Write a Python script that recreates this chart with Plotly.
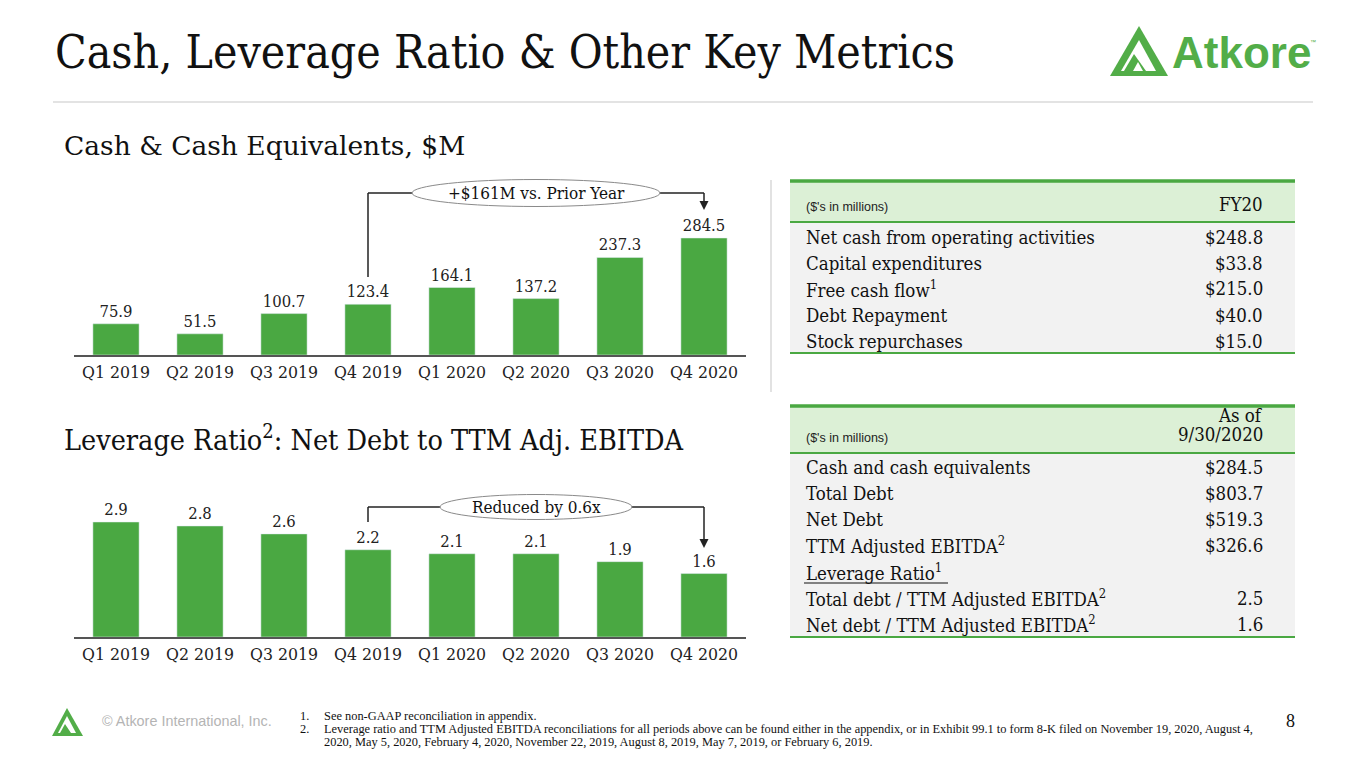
import plotly.graph_objects as go

W, H = 1365, 768

quarters = ["Q1 2019", "Q2 2019", "Q3 2019", "Q4 2019", "Q1 2020", "Q2 2020", "Q3 2020", "Q4 2020"]
cash_values = [75.9, 51.5, 100.7, 123.4, 164.1, 137.2, 237.3, 284.5]
leverage_values = [2.9, 2.8, 2.6, 2.2, 2.1, 2.1, 1.9, 1.6]

table1_header = ["($'s in millions)", "FY20"]
table1_labels = ["Net cash from operating activities", "Capital expenditures", "Free cash flow<sup>1</sup>",
                 "Debt Repayment", "Stock repurchases"]
table1_values = ["$248.8", "$33.8", "$215.0", "$40.0", "$15.0"]

table2_header = ["($'s in millions)", "As of", "9/30/2020"]
table2_labels = ["Cash and cash equivalents", "Total Debt", "Net Debt", "TTM Adjusted EBITDA<sup>2</sup>",
                 "Leverage Ratio<sup>1</sup>", "Total debt / TTM Adjusted EBITDA<sup>2</sup>",
                 "Net debt / TTM Adjusted EBITDA<sup>2</sup>"]
table2_values = ["$284.5", "$803.7", "$519.3", "$326.6", "", "2.5", "1.6"]

footnotes = [
    "See non-GAAP reconciliation in appendix.",
    "Leverage ratio and TTM Adjusted EBITDA reconciliations for all periods above can be found either in the appendix, or in Exhibit 99.1 to form 8-K filed on November 19, 2020, August 4,",
    "2020, May 5, 2020, February 4, 2020, November 22, 2019, August 8, 2019, May 7, 2019, or February 6, 2019.",
]

GREEN = "#4aa842"
LOGO_GREEN = "#52ad48"
SERIF = "DejaVu Serif Condensed, DejaVu Serif, serif"
SERIF_W = "DejaVu Serif, serif"
SANS = "Liberation Sans, Arial, sans-serif"
FOOT = "Liberation Serif, serif"


def px(x):
    return x / W


def py(y):
    return 1 - y / H


fig = go.Figure()

fig.add_trace(go.Bar(
    x=quarters, y=cash_values, marker_color=GREEN, xaxis="x", yaxis="y",
    texttemplate="%{y:.1f}", textposition="outside", cliponaxis=False,
    textfont=dict(family=SERIF, size=16.5, color="#222"), hoverinfo="skip"))
fig.add_trace(go.Bar(
    x=quarters, y=leverage_values, marker_color=GREEN, xaxis="x2", yaxis="y2",
    texttemplate="%{y:.1f}", textposition="outside", cliponaxis=False,
    textfont=dict(family=SERIF, size=16.5, color="#222"), hoverinfo="skip"))

X_LEFT, X_RIGHT = 74, 746
xdom = [px(X_LEFT), px(X_RIGHT)]
axis_common = dict(showgrid=False, zeroline=False, showline=True, linecolor="#555", linewidth=1.5,
                   ticks="", tickfont=dict(family=SERIF, size=17.5, color="#222"), fixedrange=True)

top_bottom, top_top = 355, 180
bot_bottom, bot_top = 637, 480
cash_range = max(cash_values) * (top_bottom - top_top) / 117
lev_range = max(leverage_values) * (bot_bottom - bot_top) / 115

fig.update_layout(
    width=W, height=H, margin=dict(l=0, r=0, t=0, b=0),
    paper_bgcolor="white", plot_bgcolor="white", showlegend=False, bargap=0.45,
    xaxis=dict(domain=xdom, anchor="y", **axis_common),
    yaxis=dict(domain=[py(top_bottom), py(top_top)], range=[0, cash_range], visible=False, fixedrange=True),
    xaxis2=dict(domain=xdom, anchor="y2", **axis_common),
    yaxis2=dict(domain=[py(bot_bottom), py(bot_top)], range=[0, lev_range], visible=False, fixedrange=True),
)

shapes = []
ann = []


def text_at(x, y, text, size, family=SERIF, color="#111", xanchor="left"):
    ann.append(dict(x=px(x), y=py(y), xref="paper", yref="paper", xanchor=xanchor, yanchor="middle",
                    text=text, showarrow=False, font=dict(family=family, size=size, color=color)))


# Title and header rule
text_at(53, 52, "Cash, Leverage Ratio & Other Key Metrics", 46)
shapes.append(dict(type="line", xref="paper", yref="paper", x0=px(53), x1=px(1313), y0=py(102), y1=py(102),
                   line=dict(color="#c8c8c8", width=1.2)))

# Logo
shapes.append(dict(type="path", xref="paper", yref="paper",
                   path=f"M {px(1110)},{py(76)} L {px(1139)},{py(26)} L {px(1168)},{py(76)} Z",
                   fillcolor=LOGO_GREEN, line=dict(width=0)))
shapes.append(dict(type="path", xref="paper", yref="paper",
                   path=f"M {px(1121)},{py(71)} L {px(1139)},{py(40)} L {px(1156)},{py(71)} Z",
                   fillcolor="white", line=dict(width=0)))
shapes.append(dict(type="path", xref="paper", yref="paper",
                   path=f"M {px(1124)},{py(71)} L {px(1134)},{py(54)} L {px(1146)},{py(71)} Z",
                   fillcolor=LOGO_GREEN, line=dict(width=0)))
shapes.append(dict(type="path", xref="paper", yref="paper",
                   path=f"M {px(1133)},{py(71)} L {px(1138)},{py(62)} L {px(1143)},{py(71)} Z",
                   fillcolor="white", line=dict(width=0)))
text_at(1170, 52, "<b>Atkore</b>", 44, family=SANS, color=LOGO_GREEN)
text_at(1308, 42, "™", 6, family=SANS, color=LOGO_GREEN)

# Section titles
text_at(62, 146, "Cash & Cash Equivalents, $M", 26.5, family=SERIF_W)
text_at(62, 438, "Leverage Ratio<sup>2</sup>: Net Debt to TTM Adj. EBITDA", 28.5)

# Vertical separator
shapes.append(dict(type="line", xref="paper", yref="paper", x0=px(771), x1=px(771), y0=py(180), y1=py(392),
                   line=dict(color="#d8d8d8", width=1.5)))


def cat_center_px(i):
    step = (X_RIGHT - X_LEFT) / len(quarters)
    return X_LEFT + step * (i + 0.5)


def bracket(xref, y_line, y_left_end, y_arrow_tip, ell_x0, ell_x1, ell_h, label):
    shapes.append(dict(type="line", xref=xref, yref="paper", x0=3, x1=7, y0=py(y_line), y1=py(y_line),
                       line=dict(color="#222", width=1.5)))
    shapes.append(dict(type="line", xref=xref, yref="paper", x0=3, x1=3, y0=py(y_line), y1=py(y_left_end),
                       line=dict(color="#222", width=1.5)))
    shapes.append(dict(type="line", xref=xref, yref="paper", x0=7, x1=7, y0=py(y_line), y1=py(y_arrow_tip - 6),
                       line=dict(color="#222", width=1.5)))
    ax = cat_center_px(7)
    shapes.append(dict(type="path", xref="paper", yref="paper",
                       path=f"M {px(ax - 4.5)},{py(y_arrow_tip - 9)} L {px(ax + 4.5)},{py(y_arrow_tip - 9)} "
                            f"L {px(ax)},{py(y_arrow_tip)} Z",
                       fillcolor="#222", line=dict(width=0)))
    shapes.append(dict(type="circle", xref="paper", yref="paper", x0=px(ell_x0), x1=px(ell_x1),
                       y0=py(y_line + ell_h / 2), y1=py(y_line - ell_h / 2),
                       fillcolor="white", line=dict(color="#8a8a8a", width=1)))
    text_at((ell_x0 + ell_x1) / 2, y_line, label, 17, xanchor="center")


bracket("x", 193, 277, 210, 412, 660, 27, "+$161M vs. Prior Year")
bracket("x2", 507, 522, 548, 440, 632, 25, "Reduced by 0.6x")


def table(top, header_bottom, bottom, rows_y, labels, values, header_lines):
    x0, x1 = px(790), px(1295)
    shapes.append(dict(type="rect", xref="paper", yref="paper", x0=x0, x1=x1, y0=py(header_bottom), y1=py(top),
                       fillcolor="#dcf0d6", line=dict(width=0), layer="below"))
    shapes.append(dict(type="rect", xref="paper", yref="paper", x0=x0, x1=x1, y0=py(bottom), y1=py(header_bottom),
                       fillcolor="#f2f2f2", line=dict(width=0), layer="below"))
    shapes.append(dict(type="line", xref="paper", yref="paper", x0=x0, x1=x1, y0=py(top), y1=py(top),
                       line=dict(color=GREEN, width=3.5)))
    shapes.append(dict(type="line", xref="paper", yref="paper", x0=x0, x1=x1, y0=py(header_bottom),
                       y1=py(header_bottom), line=dict(color=GREEN, width=2)))
    shapes.append(dict(type="line", xref="paper", yref="paper", x0=x0, x1=x1, y0=py(bottom), y1=py(bottom),
                       line=dict(color=GREEN, width=2)))
    text_at(804, header_bottom - 15, header_lines[0], 12.5, family=SANS, color="#222")
    for text, yy in header_lines[1:]:
        text_at(1265, yy, text, 18.5, xanchor="right")
    for lab, val, yy in zip(labels, values, rows_y):
        text_at(804, yy, lab, 18.5)
        if val:
            text_at(1265, yy, val, 18.5, xanchor="right")


table(181, 222, 353, [237, 263, 289, 315, 341], table1_labels, table1_values,
      [table1_header[0], (table1_header[1], 204)])
table(406, 453, 637, [467, 493, 519, 545, 572, 598, 624], table2_labels, table2_values,
      [table2_header[0], (table2_header[1], 415), (table2_header[2], 434)])
# underline for "Leverage Ratio"
shapes.append(dict(type="line", xref="paper", yref="paper", x0=px(804), x1=px(948), y0=py(583), y1=py(583),
                   line=dict(color="#111", width=1)))

# Footer
shapes.append(dict(type="path", xref="paper", yref="paper",
                   path=f"M {px(52)},{py(736)} L {px(67)},{py(708)} L {px(83)},{py(736)} Z",
                   fillcolor=LOGO_GREEN, line=dict(width=0)))
shapes.append(dict(type="path", xref="paper", yref="paper",
                   path=f"M {px(58)},{py(733)} L {px(67)},{py(716)} L {px(76)},{py(733)} Z",
                   fillcolor="white", line=dict(width=0)))
shapes.append(dict(type="path", xref="paper", yref="paper",
                   path=f"M {px(60)},{py(733)} L {px(65)},{py(724)} L {px(71)},{py(733)} Z",
                   fillcolor=LOGO_GREEN, line=dict(width=0)))
text_at(100, 721, "© Atkore International, Inc.", 14.4, family=SANS, color="#b4b4b4")
for num, yy in [("1.", 716), ("2.", 729)]:
    text_at(298, yy, num, 12.4, family=FOOT)
for text, yy in zip(footnotes, [716, 729, 742]):
    text_at(322, yy, text, 12.4, family=FOOT)
text_at(1290, 721, "8", 18, family=FOOT, xanchor="center")

fig.update_layout(shapes=shapes, annotations=ann)

fig.write_html("out.html", config={"displayModeBar": False},
               post_script="document.body.style.margin='0';document.body.style.padding='0';")
